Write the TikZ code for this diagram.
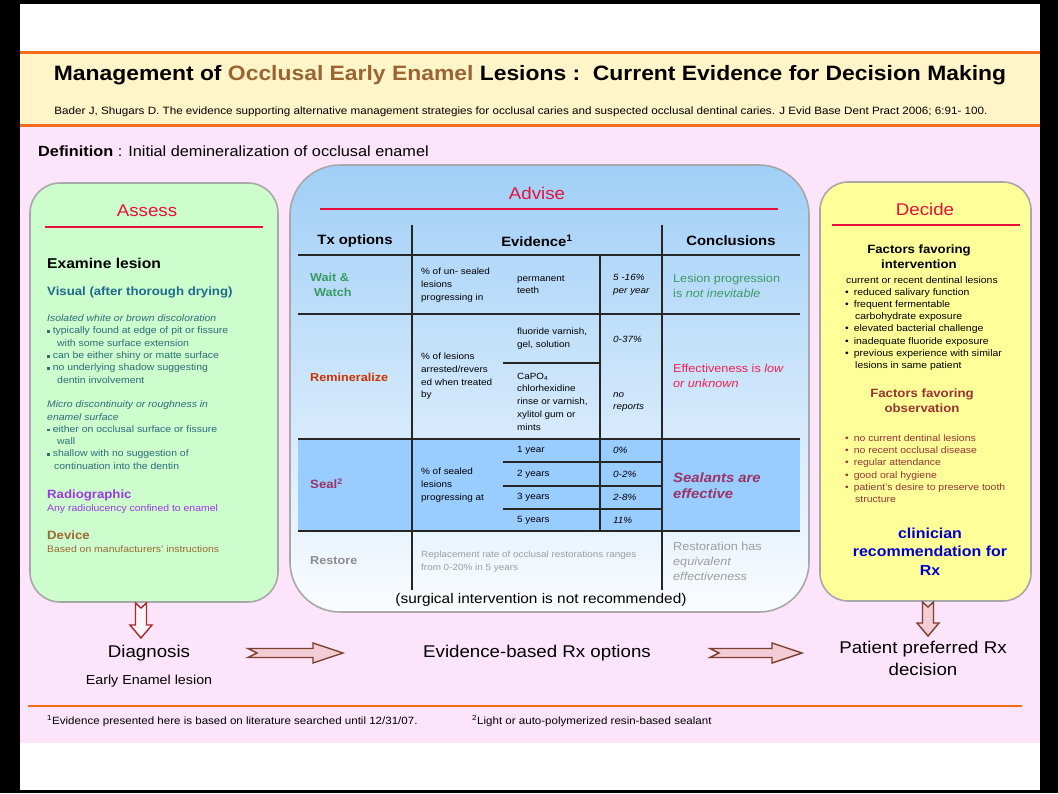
\documentclass[tikz,border=0pt]{standalone}
\usepackage{fontspec}
\setmainfont{Liberation Sans}[FakeStretch=1.1]
\usepackage{xcolor}
\usepackage{tikz}
\usetikzlibrary{calc}
\definecolor{frameline}{HTML}{F26B1D}
\definecolor{headcream}{HTML}{FFF5C8}
\definecolor{slidepink}{HTML}{FCE4FA}
\definecolor{titlebrown}{HTML}{9A6533}
\definecolor{assessgreen}{HTML}{CDFCCD}
\definecolor{panelgray}{HTML}{A8A8A8}
\definecolor{advtop}{HTML}{A0CFF7}
\definecolor{advbottom}{HTML}{FAFCFE}
\definecolor{sealblue}{HTML}{99CCFF}
\definecolor{decideyellow}{HTML}{FFFF99}
\definecolor{headred}{HTML}{E8103C}
\definecolor{visblue}{HTML}{1E6C8C}
\definecolor{noteteal}{HTML}{2D6E78}
\definecolor{radpurple}{HTML}{9A3AE0}
\definecolor{devbrown}{HTML}{9B6A32}
\definecolor{waitgreen}{HTML}{3A9A66}
\definecolor{remired}{HTML}{CC3300}
\definecolor{effred}{HTML}{F02050}
\definecolor{sealmag}{HTML}{993366}
\definecolor{restgray}{HTML}{8C8C8C}
\definecolor{obsmaroon}{HTML}{993333}
\definecolor{recblue}{HTML}{0000CC}
\definecolor{arrowred}{HTML}{A52A2A}
\definecolor{arrowbrown}{HTML}{7B3F2E}
\definecolor{arrowfill}{HTML}{F2CDD6}

\newcommand\fs[2]{\fontsize{#1}{#2}\selectfont}
\newcommand\sqb{\rule[0.2ex]{2.6pt}{2.6pt}\hspace{3pt}}
% freccia a blocco con coda dentellata: [stile]{coda}{punta}{testa}{fusto}{larghezza testa}{tacca}
\newcommand\fatarrow[7][]{%
  \coordinate (fa-h) at ($(#3)!#4!(#2)$);
  \draw[#1] ($(#2)!#5!90:(#3)$) -- ($(fa-h)!#5!90:(#3)$) -- ($(fa-h)!#6!90:(#3)$)
    -- (#3) -- ($(fa-h)!#6!-90:(#3)$) -- ($(fa-h)!#5!-90:(#3)$)
    -- ($(#2)!#5!-90:(#3)$) -- ($(#2)!#7!(#3)$) -- cycle;}

\begin{document}
\begin{tikzpicture}[x=1pt,y=-1pt,
  paneltitle/.style={font=\fs{17}{20}, text=headred},
  panel/.style={draw=panelgray, line width=1.6pt},
  redrule/.style={headred, line width=2.5pt},
  note/.style={anchor=west, inner sep=0pt, align=left, font=\fs{9.5}{12.3}},
  cell/.style={anchor=west, inner sep=0pt, align=left, font=\fs{9}{12.7}},
  concl/.style={anchor=west, inner sep=0pt, align=left, font=\fs{11.5}{15}},
  option/.style={anchor=west, inner sep=0pt, align=left, font=\bfseries\fs{11.5}{15}},
  colhead/.style={font=\bfseries\fs{13.5}{16}},
  gridline/.style={black!85, line width=1.1pt},
  flowtext/.style={font=\fs{17}{22}, align=center},
]
  \useasboundingbox (0,0) rectangle (1058,793);

  % Cornice nera e fondo
  \fill[black] (0,0) rectangle (1058,793);
  \fill[white] (20,4) rectangle (1040,790);
  \fill[headcream] (20,52) rectangle (1040,125);
  \fill[slidepink] (20,125) rectangle (1040,743);
  \draw[frameline, line width=3pt] (20,52) -- (1040,52);
  \draw[frameline, line width=3pt] (20,125) -- (1040,125);

  % Titolo e citazione
  \node (title) at (530,75) {\bfseries\fs{20.8}{24}Management of \textcolor{titlebrown}{Occlusal Early Enamel} Lesions :\ \ Current Evidence for Decision Making};
  \node (cite) at (521,112) {\fs{10.6}{13}Bader J, Shugars D. The evidence supporting alternative management strategies for occlusal caries and suspected occlusal dentinal caries. J Evid Base Dent Pract 2006; 6:91- 100.};
  \node[anchor=west, inner sep=0pt] (defn) at (38,151) {\fs{14.8}{17}\textbf{Definition} : Initial demineralization of occlusal enamel};

  % Pannello Assess
  \filldraw[panel, fill=assessgreen, rounded corners=30pt] (30,183) rectangle (278,602);
  \node[paneltitle] (assess) at (147,211) {Assess};
  \draw[redrule] (45,227) -- (263,227);
  \node[anchor=west, inner sep=0pt, font=\bfseries\fs{14.2}{17}] (exam) at (47,263) {Examine lesion};
  \node[anchor=west, inner sep=0pt, font=\bfseries\fs{12}{14}, text=visblue] (visual) at (47,292) {Visual (after thorough drying)};
  \node[note, text=noteteal] (visnotes) at (47,392) {\textit{Isolated white or brown discoloration}\\
    \sqb typically found at edge of pit or fissure\\
    \hspace{10pt}with some surface extension\\
    \sqb can be either shiny or matte surface\\
    \sqb no underlying shadow suggesting\\
    \hspace{10pt}dentin involvement\\[12.3pt]
    \textit{Micro discontinuity or roughness in}\\
    \textit{enamel surface}\\
    \sqb either on occlusal surface or fissure\\
    \hspace{10pt}wall\\
    \sqb shallow with no suggestion of\\
    \hspace{7pt}continuation into the dentin};
  \node[anchor=west, inner sep=0pt, font=\bfseries\fs{12}{14}, text=radpurple] (radio) at (47,495) {Radiographic};
  \node[note, text=radpurple] (radnote) at (47,509) {Any radiolucency confined to enamel};
  \node[anchor=west, inner sep=0pt, font=\bfseries\fs{12}{14}, text=devbrown] (device) at (47,535) {Device};
  \node[note, text=devbrown] (devnote) at (47,549) {Based on manufacturers' instructions};

  % Pannello Advise
  \shade[top color=advtop, bottom color=advbottom, rounded corners=50pt] (290,165) rectangle (809,612);
  \draw[panel, rounded corners=50pt] (290,165) rectangle (809,612);
  \node[paneltitle] (advise) at (537,193) {Advise};
  \draw[redrule] (320,209) -- (778,209);

  % Tabella
  \fill[sealblue] (298,439) rectangle (800,531);
  \foreach \yy in {255,314,439,531}
    \draw[gridline] (298,\yy) -- (800,\yy);
  \draw[gridline] (412,225) -- (412,590);
  \draw[gridline] (662,225) -- (662,590);
  \draw[gridline] (600,255) -- (600,531);
  \draw[gridline] (503,363) -- (600,363);
  \foreach \yy in {462,486,509}
    \draw[gridline] (503,\yy) -- (662,\yy);

  \node[colhead] (txh) at (355,241) {Tx options};
  \node[colhead] (evh) at (537,241) {Evidence\textsuperscript{1}};
  \node[colhead] (coh) at (731,241) {Conclusions};

  % Wait & Watch
  \node[option, text=waitgreen] (wait) at (310,284.5) {Wait \&\\\hspace{4pt}Watch};
  \node[cell] (waitev) at (421,285) {\% of un- sealed\\lesions\\progressing in};
  \node[cell] (waitpt) at (517,284.5) {permanent\\teeth};
  \node[cell, font=\itshape\fs{9}{12.7}] (waitrate) at (613,284.5) {5 -16\%\\per year};
  \node[concl, text=waitgreen] (waitco) at (673,285.5) {Lesion progression\\is \textit{not inevitable}};

  % Remineralize
  \node[option, text=remired] (remin) at (310,377) {Remineralize};
  \node[cell] (reminev) at (421,376.5) {\% of lesions\\arrested/revers\\ed when treated\\by};
  \node[cell] (fluor) at (517,339) {fluoride varnish,\\gel, solution};
  \node[cell, font=\itshape\fs{9}{12.7}] (fluorrate) at (613,339) {0-37\%};
  \node[cell] (capo) at (517,401.5) {CaPO\textsubscript{4}\\chlorhexidine\\rinse or varnish,\\xylitol gum or\\mints};
  \node[cell, font=\itshape\fs{9}{12.7}] (caporate) at (613,402) {no\\reports};
  \node[concl, text=effred] (reminco) at (673,376) {Effectiveness is \textit{low}\\\textit{or unknown}};

  % Seal
  \node[option, text=sealmag, font=\bfseries\fs{12}{15}] (seal) at (310,484) {Seal\textsuperscript{2}};
  \node[cell] (sealev) at (421,485) {\% of sealed\\lesions\\progressing at};
  \node[cell] (yr1) at (517,450.5) {1 year};
  \node[cell] (yr2) at (517,474) {2 years};
  \node[cell] (yr3) at (517,497.5) {3 years};
  \node[cell] (yr5) at (517,520) {5 years};
  \node[cell, font=\itshape\fs{9}{12.7}] (rt1) at (613,450.5) {0\%};
  \node[cell, font=\itshape\fs{9}{12.7}] (rt2) at (613,474) {0-2\%};
  \node[cell, font=\itshape\fs{9}{12.7}] (rt3) at (613,497.5) {2-8\%};
  \node[cell, font=\itshape\fs{9}{12.7}] (rt5) at (613,520) {11\%};
  \node[concl, text=sealmag, font=\bfseries\itshape\fs{13.5}{16}] (sealco) at (673,486) {Sealants are\\effective};

  % Restore
  \node[option, text=restgray] (restore) at (310,561) {Restore};
  \node[cell, text=restgray!85] (restev) at (421,561.5) {Replacement rate of occlusal restorations ranges\\from 0-20\% in 5 years};
  \node[concl, text=restgray!85] (restco) at (673,561) {Restoration has\\\textit{equivalent}\\\textit{effectiveness}};
  \node[font=\fs{14}{17}] (surg) at (541,600) {(surgical intervention is not recommended)};

  % Pannello Decide
  \filldraw[panel, fill=decideyellow, rounded corners=28pt] (820,182) rectangle (1031,601);
  \node[paneltitle] (decide) at (925,209) {Decide};
  \draw[redrule] (832,225) -- (1020,225);
  \node[font=\bfseries\fs{12}{15}, align=center, inner sep=0pt] (favint) at (919,256.5) {Factors favoring\\intervention};
  \node[inner sep=0pt, font=\fs{9.5}{12.3}] (curles) at (922,280) {current or recent dentinal lesions};
  \node[note] (intlist) at (845,329.5) {\textbullet\hspace{5pt}reduced salivary function\\
    \textbullet\hspace{5pt}frequent fermentable\\
    \hspace{10pt}carbohydrate exposure\\
    \textbullet\hspace{5pt}elevated bacterial challenge\\
    \textbullet\hspace{5pt}inadequate fluoride exposure\\
    \textbullet\hspace{5pt}previous experience with similar\\
    \hspace{10pt}lesions in same patient};
  \node[font=\bfseries\fs{12}{15}, align=center, inner sep=0pt, text=obsmaroon] (favobs) at (922,400.5) {Factors favoring\\observation};
  \node[note, text=obsmaroon] (obslist) at (845,468.5) {\textbullet\hspace{5pt}no current dentinal lesions\\
    \textbullet\hspace{5pt}no recent occlusal disease\\
    \textbullet\hspace{5pt}regular attendance\\
    \textbullet\hspace{5pt}good oral hygiene\\
    \textbullet\hspace{5pt}patient's desire to preserve tooth\\
    \hspace{10pt}structure};
  \node[font=\bfseries\fs{14.5}{18.5}, align=center, inner sep=0pt, text=recblue] (clinrec) at (930,551.5) {clinician\\recommendation for\\Rx};

  % Flusso in basso
  \node[flowtext] (diag) at (149,653) {Diagnosis};
  \node[font=\fs{13}{16}] (edia) at (149,681) {Early Enamel lesion};
  \node[flowtext] (evid) at (537,653) {Evidence-based Rx options};
  \node[flowtext] (ppr) at (923,658) {Patient preferred Rx\\decision};

  % Frecce a blocco
  \coordinate (dnL1) at (141,603);
  \coordinate (dnL2) at (141,638);
  \coordinate (dnR1) at (928,602);
  \coordinate (dnR2) at (928,636);
  \coordinate (rt1s) at (248,653);
  \coordinate (rt1e) at (343,653);
  \coordinate (rt2s) at (710,653);
  \coordinate (rt2e) at (802,653);
  \fatarrow[draw=arrowred, fill=white!60!slidepink, line width=1.4pt]{dnL1}{dnL2}{13pt}{5.5pt}{11pt}{5pt}
  \fatarrow[draw=arrowbrown, fill=arrowfill, line width=1.4pt]{dnR1}{dnR2}{13pt}{5.5pt}{11pt}{5pt}
  \fatarrow[draw=arrowbrown, fill=arrowfill, line width=1.4pt]{rt1s}{rt1e}{30pt}{4.5pt}{10pt}{9pt}
  \fatarrow[draw=arrowbrown, fill=arrowfill, line width=1.4pt]{rt2s}{rt2e}{30pt}{4.5pt}{10pt}{9pt}

  % Note a pie' di pagina
  \draw[frameline, line width=2.5pt] (28,706) -- (1022,706);
  \node[anchor=west, inner sep=0pt, font=\fs{10.5}{13}] (fn1) at (47,721) {\textsuperscript{1}Evidence presented here is based on literature searched until 12/31/07.};
  \node[anchor=west, inner sep=0pt, font=\fs{10.5}{13}] (fn2) at (472,721) {\textsuperscript{2}Light or auto-polymerized resin-based sealant};
\end{tikzpicture}
\end{document}
